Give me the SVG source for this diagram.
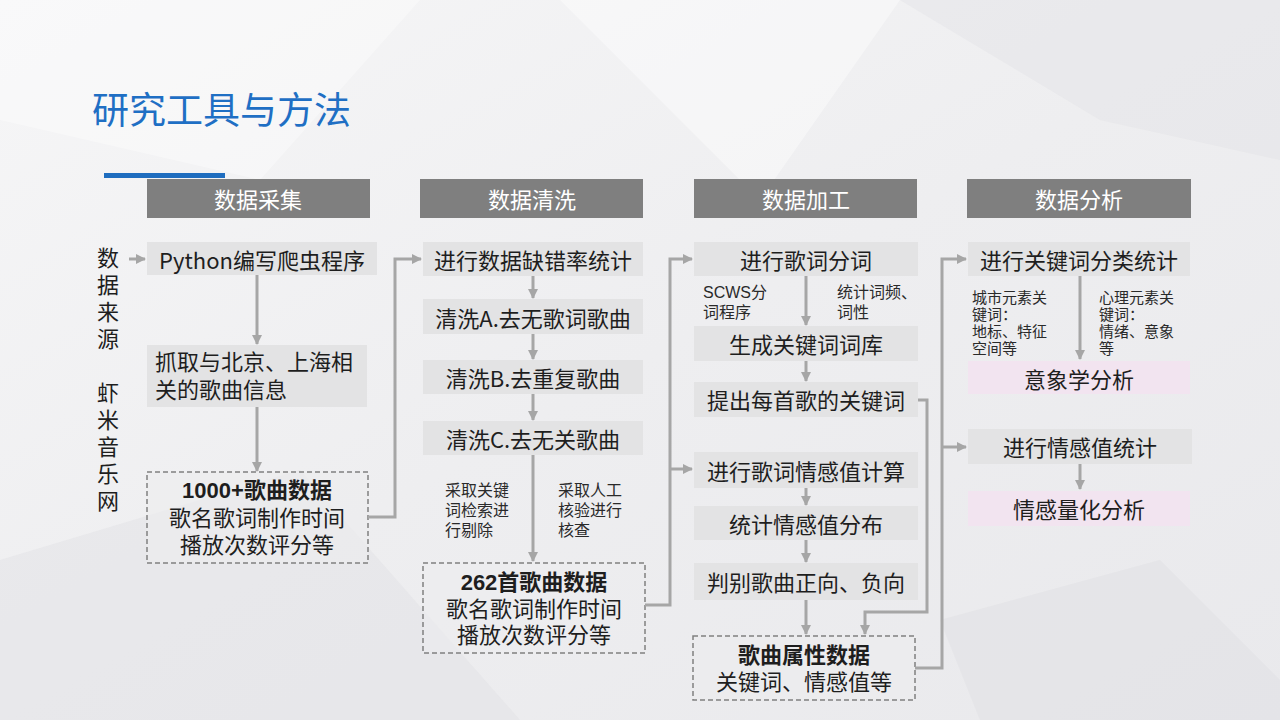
<svg xmlns="http://www.w3.org/2000/svg" width="1280" height="720" viewBox="0 0 1280 720">
<defs>
<linearGradient id="bg" x1="0" y1="0" x2="1" y2="1">
<stop offset="0" stop-color="#f6f6f7"/>
<stop offset="0.5" stop-color="#eeeef0"/>
<stop offset="1" stop-color="#e9e9ec"/>
</linearGradient>
<marker id="ah" viewBox="0 0 10 10" refX="9" refY="5" markerWidth="10" markerHeight="10" markerUnits="userSpaceOnUse" orient="auto">
<path d="M0,0 L10,5 L0,10 Z" fill="#a6a6a6"/>
</marker>
<style>
.hdr{fill:#7f7f7f}
.hdrt{font-family:"Noto Sans CJK SC","Noto Sans",sans-serif;font-size:22px;fill:#ffffff;text-anchor:middle;dominant-baseline:central}
.box{fill:#e3e3e4}
.pink{fill:#f2e4f0}
.bt{font-family:"Noto Sans CJK SC","Noto Sans",sans-serif;font-size:22px;fill:#1e1e1e;text-anchor:middle;dominant-baseline:central}
.dt{font-family:"Liberation Sans","Noto Sans CJK SC",sans-serif;font-size:22px;fill:#1e1e1e;text-anchor:middle;dominant-baseline:central}
.bold{font-weight:bold}
.dash{fill:#ececee;fill-opacity:0.6;stroke:#808080;stroke-width:1.5;stroke-dasharray:5 3}
.ann{font-family:"Liberation Sans","Noto Sans CJK SC",sans-serif;font-size:16px;fill:#2a2a2a;dominant-baseline:central}
.ann2{font-family:"Liberation Sans","Noto Sans CJK SC",sans-serif;font-size:15px;fill:#2a2a2a;dominant-baseline:central}
.vt{font-family:"Liberation Sans","Noto Sans CJK SC",sans-serif;font-size:22px;fill:#1e1e1e;text-anchor:middle;dominant-baseline:central}
.c{fill:none;stroke:#a6a6a6;stroke-width:3}
</style>
</defs>
<rect x="0" y="0" width="1280" height="720" fill="url(#bg)"/>
<polygon points="0,0 420,0 260,180 0,120" fill="#ffffff" fill-opacity="0.35"/>
<polygon points="560,0 900,0 760,200" fill="#ffffff" fill-opacity="0.4"/>
<polygon points="900,0 1280,0 1280,160 1100,120" fill="#e4e4e7" fill-opacity="0.5"/>
<polygon points="0,560 300,470 520,720 0,720" fill="#e2e2e5" fill-opacity="0.5"/>
<polygon points="940,620 1160,560 1280,680 1280,720 980,720" fill="#e0e0e3" fill-opacity="0.5"/>

<text x="92" y="108" font-family="'Noto Sans CJK SC','Noto Sans',sans-serif" font-size="37" fill="#1f6fc4" dominant-baseline="central">研究工具与方法</text>
<rect x="104" y="173" width="121" height="5" fill="#1f6dbf"/>

<g id="h1"><rect class="hdr" x="147" y="179" width="223" height="39"/><text class="hdrt" x="258" y="198">数据采集</text></g>
<g id="h2"><rect class="hdr" x="420" y="179" width="223" height="39"/><text class="hdrt" x="532" y="198">数据清洗</text></g>
<g id="h3"><rect class="hdr" x="694" y="179" width="223" height="39"/><text class="hdrt" x="806" y="198">数据加工</text></g>
<g id="h4"><rect class="hdr" x="967" y="179" width="224" height="39"/><text class="hdrt" x="1079" y="198">数据分析</text></g>

<g id="source">
<text class="vt"><tspan x="108" y="258">数</tspan><tspan x="108" y="285">据</tspan><tspan x="108" y="312">来</tspan><tspan x="108" y="339">源</tspan><tspan x="108" y="393">虾</tspan><tspan x="108" y="420">米</tspan><tspan x="108" y="447">音</tspan><tspan x="108" y="474">乐</tspan><tspan x="108" y="501">网</tspan></text>
</g>

<g id="n_python"><rect class="box" x="147" y="242" width="230" height="33"/><text class="bt" x="262" y="259" font-size="21">Python编写爬虫程序</text></g>
<g id="n_crawl"><rect class="box" x="147" y="345" width="220" height="62"/>
<text class="dt" style="text-anchor:start"><tspan x="155" y="362">抓取与北京、上海相</tspan><tspan x="155" y="390">关的歌曲信息</tspan></text></g>
<g id="n_1000"><rect class="dash" x="147" y="472" width="221" height="91"/>
<text class="dt bold" x="257" y="490">1000+歌曲数据</text>
<text class="dt"><tspan x="257" y="518">歌名歌词制作时间</tspan><tspan x="257" y="545">播放次数评分等</tspan></text></g>

<g id="n_stat"><rect class="box" x="423" y="242" width="220" height="34"/><text class="bt" x="533" y="259">进行数据缺错率统计</text></g>
<g id="n_A"><rect class="box" x="423" y="299" width="220" height="35"/><text class="bt" x="533" y="317">清洗A.去无歌词歌曲</text></g>
<g id="n_B"><rect class="box" x="423" y="360" width="220" height="34"/><text class="bt" x="533" y="377">清洗B.去重复歌曲</text></g>
<g id="n_C"><rect class="box" x="423" y="421" width="220" height="34"/><text class="bt" x="533" y="438">清洗C.去无关歌曲</text></g>
<g id="ann_c2">
<text class="ann"><tspan x="445" y="490">采取关键</tspan><tspan x="445" y="510">词检索进</tspan><tspan x="445" y="530">行剔除</tspan></text>
<text class="ann"><tspan x="558" y="490">采取人工</tspan><tspan x="558" y="510">核验进行</tspan><tspan x="558" y="530">核查</tspan></text>
</g>
<g id="n_262"><rect class="dash" x="423" y="563" width="222" height="90"/>
<text class="dt bold" x="534" y="582">262首歌曲数据</text>
<text class="dt"><tspan x="534" y="609">歌名歌词制作时间</tspan><tspan x="534" y="635">播放次数评分等</tspan></text></g>

<g id="n_seg"><rect class="box" x="694" y="242" width="224" height="34"/><text class="bt" x="806" y="259">进行歌词分词</text></g>
<g id="ann_c3">
<text class="ann"><tspan x="703" y="292">SCWS分</tspan><tspan x="703" y="312">词程序</tspan></text>
<text class="ann"><tspan x="837" y="292">统计词频、</tspan><tspan x="837" y="312">词性</tspan></text>
</g>
<g id="n_lib"><rect class="box" x="694" y="326" width="224" height="35"/><text class="bt" x="806" y="343">生成关键词词库</text></g>
<g id="n_kw"><rect class="box" x="694" y="382" width="224" height="35"/><text class="bt" x="806" y="399">提出每首歌的关键词</text></g>
<g id="n_emo"><rect class="box" x="694" y="452" width="224" height="36"/><text class="bt" x="806" y="470">进行歌词情感值计算</text></g>
<g id="n_dist"><rect class="box" x="694" y="506" width="224" height="34"/><text class="bt" x="806" y="523">统计情感值分布</text></g>
<g id="n_judge"><rect class="box" x="694" y="563" width="224" height="37"/><text class="bt" x="806" y="581">判别歌曲正向、负向</text></g>
<g id="n_attr"><rect class="dash" x="693" y="636" width="222" height="64"/>
<text class="dt bold" x="804" y="655">歌曲属性数据</text>
<text class="dt" x="804" y="682">关键词、情感值等</text></g>

<g id="n_cls"><rect class="box" x="968" y="242" width="222" height="34"/><text class="bt" x="1079" y="259">进行关键词分类统计</text></g>
<g id="ann_c4">
<text class="ann2"><tspan x="972" y="297">城市元素关</tspan><tspan x="972" y="314">键词：</tspan><tspan x="972" y="331">地标、特征</tspan><tspan x="972" y="348">空间等</tspan></text>
<text class="ann2"><tspan x="1099" y="297">心理元素关</tspan><tspan x="1099" y="314">键词：</tspan><tspan x="1099" y="331">情绪、意象</tspan><tspan x="1099" y="348">等</tspan></text>
</g>
<g id="n_img"><rect class="pink" x="968" y="361" width="222" height="33"/><text class="bt" x="1079" y="378">意象学分析</text></g>
<g id="n_emostat"><rect class="box" x="968" y="429" width="224" height="35"/><text class="bt" x="1080" y="446">进行情感值统计</text></g>
<g id="n_quant"><rect class="pink" x="968" y="491" width="222" height="35"/><text class="bt" x="1079" y="508">情感量化分析</text></g>

<g id="connectors">
<line class="c" x1="129" y1="259" x2="145" y2="259" stroke-width="2" marker-end="url(#ah)"/>
<line class="c" x1="257" y1="275" x2="257" y2="344" marker-end="url(#ah)"/>
<line class="c" x1="257" y1="407" x2="257" y2="471" marker-end="url(#ah)"/>
<polyline class="c" points="368,517 395,517 395,259 421,259" marker-end="url(#ah)"/>
<line class="c" x1="533" y1="276" x2="533" y2="298" marker-end="url(#ah)"/>
<line class="c" x1="533" y1="334" x2="533" y2="359" marker-end="url(#ah)"/>
<line class="c" x1="533" y1="394" x2="533" y2="420" marker-end="url(#ah)"/>
<line class="c" x1="533" y1="455" x2="533" y2="561" marker-end="url(#ah)"/>
<polyline class="c" points="645,605 670,605 670,259 692,259" marker-end="url(#ah)"/>
<line class="c" x1="670" y1="469" x2="692" y2="469" marker-end="url(#ah)"/>
<line class="c" x1="806" y1="276" x2="806" y2="325" marker-end="url(#ah)"/>
<line class="c" x1="806" y1="361" x2="806" y2="381" marker-end="url(#ah)"/>
<line class="c" x1="806" y1="488" x2="806" y2="505" marker-end="url(#ah)"/>
<line class="c" x1="806" y1="540" x2="806" y2="562" marker-end="url(#ah)"/>
<line class="c" x1="806" y1="600" x2="806" y2="634" marker-end="url(#ah)"/>
<polyline class="c" points="918,400 927,400 927,612 865,612 865,634" marker-end="url(#ah)"/>
<polyline class="c" points="915,668 942,668 942,259 966,259" marker-end="url(#ah)"/>
<line class="c" x1="942" y1="447" x2="966" y2="447" marker-end="url(#ah)"/>
<line class="c" x1="1080" y1="276" x2="1080" y2="359" marker-end="url(#ah)"/>
<line class="c" x1="1080" y1="464" x2="1080" y2="489" marker-end="url(#ah)"/>
</g>
</svg>
